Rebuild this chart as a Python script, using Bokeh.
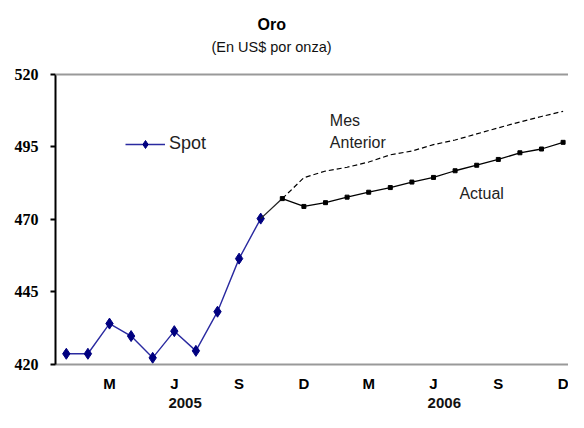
from bokeh.plotting import figure
from bokeh.models import (Range1d, LinearAxis, FixedTicker, Span, Label,
                          Legend, LegendItem)
from bokeh.embed import file_html
from bokeh.resources import INLINE

# ---- data (month index 0 = Jan 2005) ----
spot_x = [0, 1, 2, 3, 4, 5, 6, 7, 8, 9]
spot = [423.7, 423.7, 434.1, 429.8, 422.3, 431.5, 424.7, 438.2, 456.5, 470.3]

fc_x = [10, 11, 12, 13, 14, 15, 16, 17, 18, 19, 20, 21, 22, 23]
actual = [477.2, 474.5, 475.8, 477.7, 479.4, 481.0, 482.9, 484.5, 486.8,
          488.7, 490.7, 493.0, 494.3, 496.6]
mes_anterior = [477.2, 484.4, 486.7, 488.0, 489.8, 492.3, 493.6, 495.8,
                497.4, 499.5, 501.6, 503.6, 505.5, 507.3]

tick_pos = [2, 5, 8, 11, 14, 17, 20, 23]
tick_labels = ["M", "J", "S", "D", "M", "J", "S", "D"]
year_pos = [5.5, 17.5]
year_labels = ["2005", "2006"]
y_ticks = [420, 445, 470, 495, 520]

SANS = "Liberation Sans"
SERIF = "Liberation Serif"

p = figure(width=568, height=412, output_backend="svg", toolbar_location=None,
           x_range=Range1d(-0.5, 23.25), y_range=Range1d(420, 545.5),
           x_axis_type=None, y_axis_type=None,
           min_border_left=55, min_border_right=0, min_border_top=0,
           min_border_bottom=48)
p.outline_line_color = None
p.xgrid.visible = False
p.ygrid.visible = False
p.background_fill_color = "white"
p.border_fill_color = "white"

# y axis
yax = LinearAxis(ticker=FixedTicker(ticks=y_ticks), bounds=(420, 520))
yax.axis_line_color = "black"
yax.axis_line_width = 2
yax.major_tick_line_color = "black"
yax.major_tick_line_width = 2
yax.major_tick_out = 5
yax.major_tick_in = 0
yax.minor_tick_line_color = None
yax.major_label_standoff = 12
yax.major_label_text_font = SERIF
yax.major_label_text_font_style = "bold"
yax.major_label_text_font_size = "16px"
yax.major_label_text_color = "black"
p.add_layout(yax, "left")

# x axis (months)
xax = LinearAxis(ticker=FixedTicker(ticks=tick_pos))
xax.major_label_overrides = {t: l for t, l in zip(tick_pos, tick_labels)}
xax.axis_line_color = "#999999"
xax.axis_line_width = 2
xax.major_tick_line_color = None
xax.major_tick_out = 0
xax.major_tick_in = 0
xax.minor_tick_line_color = None
xax.major_label_standoff = 10
xax.major_label_text_font = SANS
xax.major_label_text_font_style = "bold"
xax.major_label_text_font_size = "15px"
xax.major_label_text_color = "black"
p.add_layout(xax, "below")

# x axis (years)
yrax = LinearAxis(ticker=FixedTicker(ticks=year_pos))
yrax.major_label_overrides = {t: l for t, l in zip(year_pos, year_labels)}
yrax.axis_line_color = None
yrax.major_tick_line_color = None
yrax.major_tick_out = 0
yrax.major_tick_in = 0
yrax.minor_tick_line_color = None
yrax.major_label_standoff = 3
yrax.major_label_text_font = SANS
yrax.major_label_text_font_style = "bold"
yrax.major_label_text_font_size = "15px"
yrax.major_label_text_color = "#111111"
p.add_layout(yrax, "below")

# top border line
p.add_layout(Span(location=520, dimension="width", line_color="#999999",
                  line_width=2))

# series
spot_line = p.line(spot_x, spot, line_color="#2a2aa0", line_width=1.4)
spot_pts = p.scatter(spot_x, spot, marker="diamond", size=11,
                     fill_color="#000080", line_color="#000080")
p.line([spot_x[-1], fc_x[0]], [spot[-1], actual[0]], line_color="#222222",
       line_width=1.3)
p.line(fc_x, mes_anterior, line_color="black", line_width=1.2,
       line_dash="5 3")
p.line(fc_x, actual, line_color="black", line_width=1.3)
p.scatter(fc_x, actual, marker="square", size=4, fill_color="black",
          line_color="black")

legend = Legend(items=[LegendItem(label="Spot",
                                  renderers=[spot_line, spot_pts])],
                location=(70, 210))
legend.glyph_width = 40
legend.glyph_height = 20
legend.label_height = 20
legend.label_standoff = 4
legend.padding = 0
legend.margin = 0
legend.spacing = 0
legend.border_line_color = None
legend.background_fill_alpha = 0
legend.label_text_font = SANS
legend.label_text_font_size = "18px"
legend.label_text_color = "#222222"
p.add_layout(legend)

# annotations
for txt, x, y in [("Mes", 12.2, 504.1), ("Anterior", 12.2, 496.7),
                  ("Actual", 18.2, 479.1)]:
    p.add_layout(Label(x=x, y=y, text=txt, text_font=SANS,
                       text_font_size="16px", text_color="#222222",
                       text_baseline="middle", text_align="left"))

# titles
p.add_layout(Label(x=8.85, y=537.2, text="Oro", text_font=SANS,
                   text_font_style="bold", text_font_size="16px",
                   text_color="black", text_align="left",
                   text_baseline="middle"))
p.add_layout(Label(x=6.72, y=529.3, text="(En US$ por onza)", text_font=SANS,
                   text_font_size="14.5px", text_color="#111111",
                   text_align="left", text_baseline="middle"))

open("out.html", "w").write(file_html(p, INLINE))
